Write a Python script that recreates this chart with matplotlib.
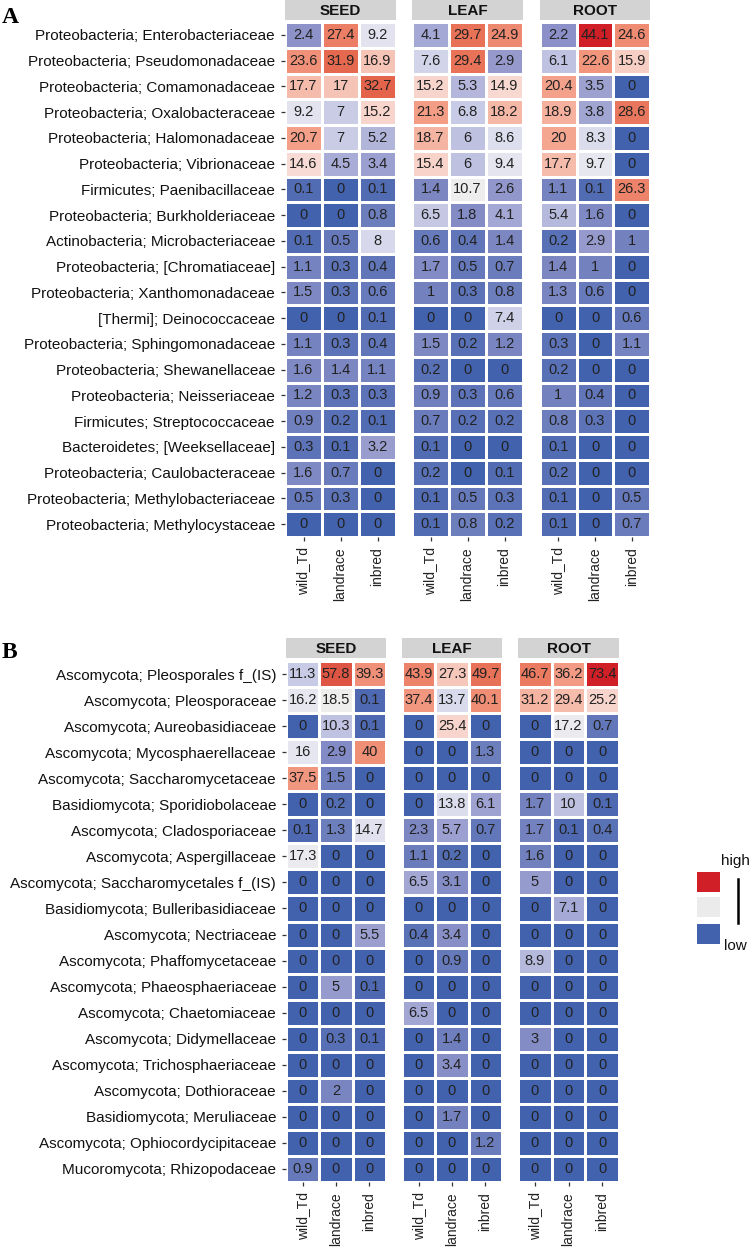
import numpy as np
import matplotlib
matplotlib.use("Agg")
import matplotlib.pyplot as plt
from matplotlib.colors import LinearSegmentedColormap, PowerNorm
from matplotlib.patches import Rectangle

plt.rcParams['font.family'] = ['Liberation Sans', 'DejaVu Sans']

# ---------------- data ----------------
groups = ["wild_Td", "landrace", "inbred"]
facets = ["SEED", "LEAF", "ROOT"]

taxa_A = [
    "Proteobacteria; Enterobacteriaceae", "Proteobacteria; Pseudomonadaceae",
    "Proteobacteria; Comamonadaceae", "Proteobacteria; Oxalobacteraceae",
    "Proteobacteria; Halomonadaceae", "Proteobacteria; Vibrionaceae",
    "Firmicutes; Paenibacillaceae", "Proteobacteria; Burkholderiaceae",
    "Actinobacteria; Microbacteriaceae", "Proteobacteria; [Chromatiaceae]",
    "Proteobacteria; Xanthomonadaceae", "[Thermi]; Deinococcaceae",
    "Proteobacteria; Sphingomonadaceae", "Proteobacteria; Shewanellaceae",
    "Proteobacteria; Neisseriaceae", "Firmicutes; Streptococcaceae",
    "Bacteroidetes; [Weeksellaceae]", "Proteobacteria; Caulobacteraceae",
    "Proteobacteria; Methylobacteriaceae", "Proteobacteria; Methylocystaceae",
]
seed_A = [[2.4, 27.4, 9.2], [23.6, 31.9, 16.9], [17.7, 17, 32.7], [9.2, 7, 15.2],
          [20.7, 7, 5.2], [14.6, 4.5, 3.4], [0.1, 0, 0.1], [0, 0, 0.8],
          [0.1, 0.5, 8], [1.1, 0.3, 0.4], [1.5, 0.3, 0.6], [0, 0, 0.1],
          [1.1, 0.3, 0.4], [1.6, 1.4, 1.1], [1.2, 0.3, 0.3], [0.9, 0.2, 0.1],
          [0.3, 0.1, 3.2], [1.6, 0.7, 0], [0.5, 0.3, 0], [0, 0, 0]]
leaf_A = [[4.1, 29.7, 24.9], [7.6, 29.4, 2.9], [15.2, 5.3, 14.9], [21.3, 6.8, 18.2],
          [18.7, 6, 8.6], [15.4, 6, 9.4], [1.4, 10.7, 2.6], [6.5, 1.8, 4.1],
          [0.6, 0.4, 1.4], [1.7, 0.5, 0.7], [1, 0.3, 0.8], [0, 0, 7.4],
          [1.5, 0.2, 1.2], [0.2, 0, 0], [0.9, 0.3, 0.6], [0.7, 0.2, 0.2],
          [0.1, 0, 0], [0.2, 0, 0.1], [0.1, 0.5, 0.3], [0.1, 0.8, 0.2]]
root_A = [[2.2, 44.1, 24.6], [6.1, 22.6, 15.9], [20.4, 3.5, 0], [18.9, 3.8, 28.6],
          [20, 8.3, 0], [17.7, 9.7, 0], [1.1, 0.1, 26.3], [5.4, 1.6, 0],
          [0.2, 2.9, 1], [1.4, 1, 0], [1.3, 0.6, 0], [0, 0, 0.6],
          [0.3, 0, 1.1], [0.2, 0, 0], [1, 0.4, 0], [0.8, 0.3, 0],
          [0.1, 0, 0], [0.2, 0, 0], [0.1, 0, 0.5], [0.1, 0, 0.7]]

taxa_B = [
    "Ascomycota; Pleosporales f_(IS)", "Ascomycota; Pleosporaceae",
    "Ascomycota; Aureobasidiaceae", "Ascomycota; Mycosphaerellaceae",
    "Ascomycota; Saccharomycetaceae", "Basidiomycota; Sporidiobolaceae",
    "Ascomycota; Cladosporiaceae", "Ascomycota; Aspergillaceae",
    "Ascomycota; Saccharomycetales f_(IS)", "Basidiomycota; Bulleribasidiaceae",
    "Ascomycota; Nectriaceae", "Ascomycota; Phaffomycetaceae",
    "Ascomycota; Phaeosphaeriaceae", "Ascomycota; Chaetomiaceae",
    "Ascomycota; Didymellaceae", "Ascomycota; Trichosphaeriaceae",
    "Ascomycota; Dothioraceae", "Basidiomycota; Meruliaceae",
    "Ascomycota; Ophiocordycipitaceae", "Mucoromycota; Rhizopodaceae",
]
seed_B = [[11.3, 57.8, 39.3], [16.2, 18.5, 0.1], [0, 10.3, 0.1], [16, 2.9, 40],
          [37.5, 1.5, 0], [0, 0.2, 0], [0.1, 1.3, 14.7], [17.3, 0, 0],
          [0, 0, 0], [0, 0, 0], [0, 0, 5.5], [0, 0, 0],
          [0, 5, 0.1], [0, 0, 0], [0, 0.3, 0.1], [0, 0, 0],
          [0, 2, 0], [0, 0, 0], [0, 0, 0], [0.9, 0, 0]]
leaf_B = [[43.9, 27.3, 49.7], [37.4, 13.7, 40.1], [0, 25.4, 0], [0, 0, 1.3],
          [0, 0, 0], [0, 13.8, 6.1], [2.3, 5.7, 0.7], [1.1, 0.2, 0],
          [6.5, 3.1, 0], [0, 0, 0], [0.4, 3.4, 0], [0, 0.9, 0],
          [0, 0, 0], [6.5, 0, 0], [0, 1.4, 0], [0, 3.4, 0],
          [0, 0, 0], [0, 1.7, 0], [0, 0, 1.2], [0, 0, 0]]
root_B = [[46.7, 36.2, 73.4], [31.2, 29.4, 25.2], [0, 17.2, 0.7], [0, 0, 0],
          [0, 0, 0], [1.7, 10, 0.1], [1.7, 0.1, 0.4], [1.6, 0, 0],
          [5, 0, 0], [0, 7.1, 0], [0, 0, 0], [8.9, 0, 0],
          [0, 0, 0], [0, 0, 0], [3, 0, 0], [0, 0, 0],
          [0, 0, 0], [0, 0, 0], [0, 0, 0], [0, 0, 0]]

# ---------------- styling ----------------
cmap = LinearSegmentedColormap.from_list("bwr_gg", [
    (0.0, "#4262AD"), (0.233, "#8E93C9"), (0.319, "#A8ACD6"),
    (0.398, "#CBCDE6"), (0.457, "#E4E4F0"), (0.5, "#EEEEEE"),
    (0.575, "#F7DCD5"), (0.685, "#F4A089"), (0.85, "#E5694E"),
    (1.0, "#D01F26")])

W, H = 752, 1249
fig = plt.figure(figsize=(W / 100, H / 100), dpi=100)


def ax_px(x0, y0, x1, y1):
    return fig.add_axes([x0 / W, 1 - y1 / H, (x1 - x0) / W, (y1 - y0) / H])


def panel(taxa, datas, col_x, strip_y, row_y, label, label_y):
    vmax = max(np.max(np.array(d)) for d in datas)
    norm = PowerNorm(gamma=0.5, vmin=0, vmax=vmax)
    for k, (data, (x0, x1)) in enumerate(zip(datas, col_x)):
        arr = np.array(data, dtype=float)
        ax = ax_px(x0, row_y[0], x1, row_y[1])
        ax.pcolormesh(np.arange(len(groups) + 1), np.arange(len(taxa) + 1), arr,
                      cmap=cmap, norm=norm, edgecolors="white", linewidth=0.9)
        ax.set_xlim(0, len(groups))
        ax.set_ylim(len(taxa), 0)
        for i in range(arr.shape[0]):
            for j in range(arr.shape[1]):
                ax.text(j + 0.5, i + 0.5, f"{arr[i, j]:g}", ha="center",
                        va="center", fontsize=10.5, color="#222222")
        for s in ax.spines.values():
            s.set_visible(False)
        ax.tick_params(axis="both", direction="out", length=3.2, width=0.9,
                       color="#333333", pad=4)
        ax.set_xticks(np.arange(len(groups)) + 0.5)
        ax.set_xticklabels(groups, rotation=90, fontsize=10, color="#222222")
        ax.set_yticks(np.arange(len(taxa)) + 0.5)
        if k == 0:
            ax.set_yticklabels(taxa, fontsize=11, color="#111111")
        else:
            ax.set_yticklabels([])
            ax.tick_params(axis="y", left=False, length=0)
        # strip
        sax = ax_px(x0, strip_y[0], x1, strip_y[1])
        sax.add_patch(Rectangle((0, 0), 1, 1, transform=sax.transAxes,
                                facecolor="#D3D3D3", edgecolor="none"))
        sax.set_axis_off()
        sax.text(0.5, 0.45, facets[k], ha="center", va="center", fontsize=11,
                 fontweight="bold", color="#111111", transform=sax.transAxes)
    fig.text(2 / W, 1 - label_y / H, label, fontsize=17, fontweight="bold",
             family=["Liberation Serif", "DejaVu Serif"], ha="left",
             va="baseline")


panel(taxa_A, [seed_A, leaf_A, root_A],
      [(285, 396), (412, 523), (540, 650)], (0, 20), (22, 537), "A", 23)
panel(taxa_B, [seed_B, leaf_B, root_B],
      [(286, 386), (402, 502), (518, 619)], (638, 658), (661, 1182), "B", 658)

# ---------------- legend ----------------
lax = ax_px(0, 0, W, H)
lax.set_xlim(0, W)
lax.set_ylim(H, 0)
lax.set_axis_off()
lax.patch.set_alpha(0)
for (y0, c) in [(872, "#D01F26"), (897, "#EBEBEB"), (924, "#4262AD")]:
    lax.add_patch(Rectangle((697, y0), 23, 20, facecolor=c, edgecolor="none"))
lax.plot([738, 738], [879, 923], color="black", lw=1.8)
lax.text(721, 861, "high", fontsize=11, ha="left", va="center", color="#111111")
lax.text(724, 946, "low", fontsize=11, ha="left", va="center", color="#111111")

fig.savefig("out.png", dpi=100)
